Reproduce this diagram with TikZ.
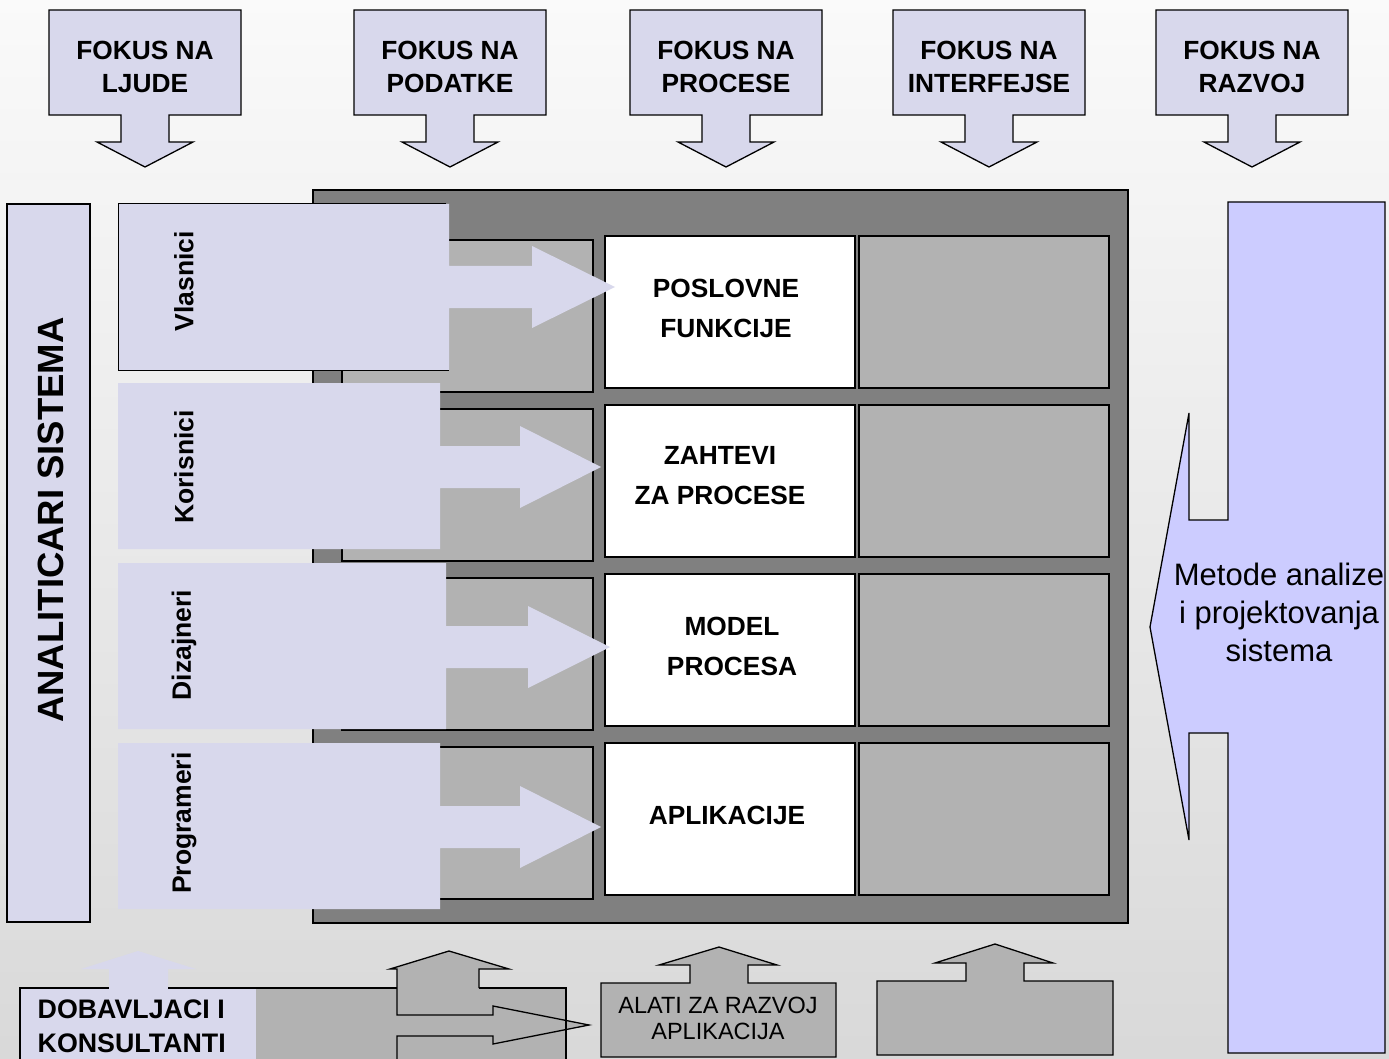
\documentclass[tikz,border=0pt]{standalone}
\usepackage{fontspec}
\setmainfont{Liberation Sans}

\definecolor{lav}{RGB}{216,216,236}
\definecolor{lavblue}{RGB}{204,204,255}
\definecolor{panelgray}{RGB}{128,128,128}
\definecolor{cellgray}{RGB}{178,178,178}

\begin{document}
\begin{tikzpicture}[x=1pt, y=-1pt, line width=1.3pt,
    every node/.style={font=\bfseries\fontsize{26.3}{33}\selectfont, align=center, inner sep=0pt},
    people/.style={font=\bfseries\fontsize{26.5}{30}\selectfont, rotate=90},
    celltext/.style={font=\bfseries\fontsize{26.3}{40}\selectfont}]

    % Draw the background
    \shade[top color=white!98!black, bottom color=white!85!black] (0,0) rectangle (1389,1059);
    \useasboundingbox (0,0) rectangle (1389,1059);

    % Draw the focus arrows on top
    \foreach \cx/\name/\txt in {145/ljude/{FOKUS NA\\LJUDE}, 450/podatke/{FOKUS NA\\PODATKE},
        726/procese/{FOKUS NA\\PROCESE}, 989/interfejse/{FOKUS NA\\INTERFEJSE}, 1252/razvoj/{FOKUS NA\\RAZVOJ}} {
        \draw[fill=lav] (\cx-96,10) -- (\cx+96,10) -- (\cx+96,115) -- (\cx+24,115) -- (\cx+24,142)
            -- (\cx+48,142) -- (\cx,167) -- (\cx-48,142) -- (\cx-24,142) -- (\cx-24,115) -- (\cx-96,115) -- cycle;
        \node (\name) at (\cx,67) {\txt};
    }

    % Draw the analysts bar
    \draw[fill=lav] (7,204) rectangle (90,922);
    \node[rotate=90, font=\bfseries\fontsize{36.5}{40}\selectfont] (analiticari) at (51,520) {ANALITICARI SISTEMA};

    % Draw the panel with its cells
    \draw[fill=panelgray] (313,190) rectangle (1128,923);
    \foreach \y in {236,405,574,743} {
        \draw[fill=cellgray] (342,\y+4) rectangle (593,\y+156);
        \draw[fill=white] (605,\y) rectangle (855,\y+152);
        \draw[fill=cellgray] (859,\y) rectangle (1109,\y+152);
    }

    % Draw the people boxes with their arrows
    \fill[lav] (118,204) -- (449,204) -- (449,266) -- (532,266) -- (532,246) -- (615,287)
        -- (532,328) -- (532,308) -- (449,308) -- (449,370) -- (118,370) -- cycle;
    \draw[line width=1pt] (446,204) -- (118,204) -- (118,370) -- (449,370);
    \fill[lav] (118,383) -- (440,383) -- (440,446) -- (520,446) -- (520,426) -- (601,467)
        -- (520,508) -- (520,488) -- (440,488) -- (440,549) -- (118,549) -- cycle;
    \fill[lav] (118,563) -- (446,563) -- (446,626) -- (528,626) -- (528,606) -- (610,647)
        -- (528,688) -- (528,668) -- (446,668) -- (446,729) -- (118,729) -- cycle;
    \fill[lav] (118,743) -- (440,743) -- (440,806) -- (520,806) -- (520,786) -- (601,827)
        -- (520,868) -- (520,848) -- (440,848) -- (440,909) -- (118,909) -- cycle;

    \node[people] (vlasnici) at (184,281) {Vlasnici};
    \node[people] (korisnici) at (184,467) {Korisnici};
    \node[people] (dizajneri) at (184,645) {Dizajneri};
    \node[people] (programeri) at (184,823) {Programeri};

    % Draw the texts in the white cells
    \node[celltext] (poslovne) at (726,308) {POSLOVNE\\FUNKCIJE};
    \node[celltext] (zahtevi) at (720,476) {ZAHTEVI\\ZA PROCESE};
    \node[celltext] (model) at (732,646) {MODEL\\PROCESA};
    \node[celltext] (aplikacije) at (727,815) {APLIKACIJE};

    % Draw the methods arrow on the right
    \draw[fill=lavblue] (1228,202) -- (1385,202) -- (1385,1053) -- (1228,1053) -- (1228,733) -- (1189,733)
        -- (1189,840) -- (1150,627) -- (1189,413) -- (1189,520) -- (1228,520) -- cycle;
    \node[font=\fontsize{31}{38}\selectfont] (metode) at (1279,612) {Metode analize\\i projektovanja\\sistema};

    % Draw the suppliers box at the bottom
    \fill[lav] (20,988) rectangle (256,1070);
    \fill[cellgray] (256,988) rectangle (566,1070);
    \draw[fill=cellgray] (397,1070) -- (397,1036) -- (493,1036) -- (493,1044) -- (589,1025) -- (493,1006)
        -- (493,1015) -- (397,1015) -- (397,969) -- (390,969) -- (449,951) -- (509,969) -- (479,969) -- (479,988);
    \fill[lav] (109,990) -- (109,969) -- (81,969) -- (138,951) -- (196,969) -- (168,969) -- (168,990) -- cycle;
    \draw (20,1070) -- (20,988) -- (109,988);
    \draw (168,988) -- (397,988);
    \draw (479,988) -- (566,988) -- (566,1070);
    \node[anchor=west, align=left, font=\bfseries\fontsize{26.8}{34}\selectfont] (dobavljaci) at (37,1026) {DOBAVLJACI I\\KONSULTANTI};

    % Draw the tool boxes at the bottom
    \draw[fill=cellgray] (601,983) -- (690,983) -- (690,965) -- (659,965) -- (719,947) -- (777,965) -- (748,965)
        -- (748,983) -- (836,983) -- (836,1057) -- (601,1057) -- cycle;
    \node[font=\fontsize{23.5}{26}\selectfont] (alati) at (718,1018) {ALATI ZA RAZVOJ\\APLIKACIJA};
    \draw[fill=cellgray] (877,981) -- (966,981) -- (966,963) -- (935,963) -- (995,944) -- (1053,963) -- (1024,963)
        -- (1024,981) -- (1113,981) -- (1113,1055) -- (877,1055) -- cycle;
\end{tikzpicture}
\end{document}
